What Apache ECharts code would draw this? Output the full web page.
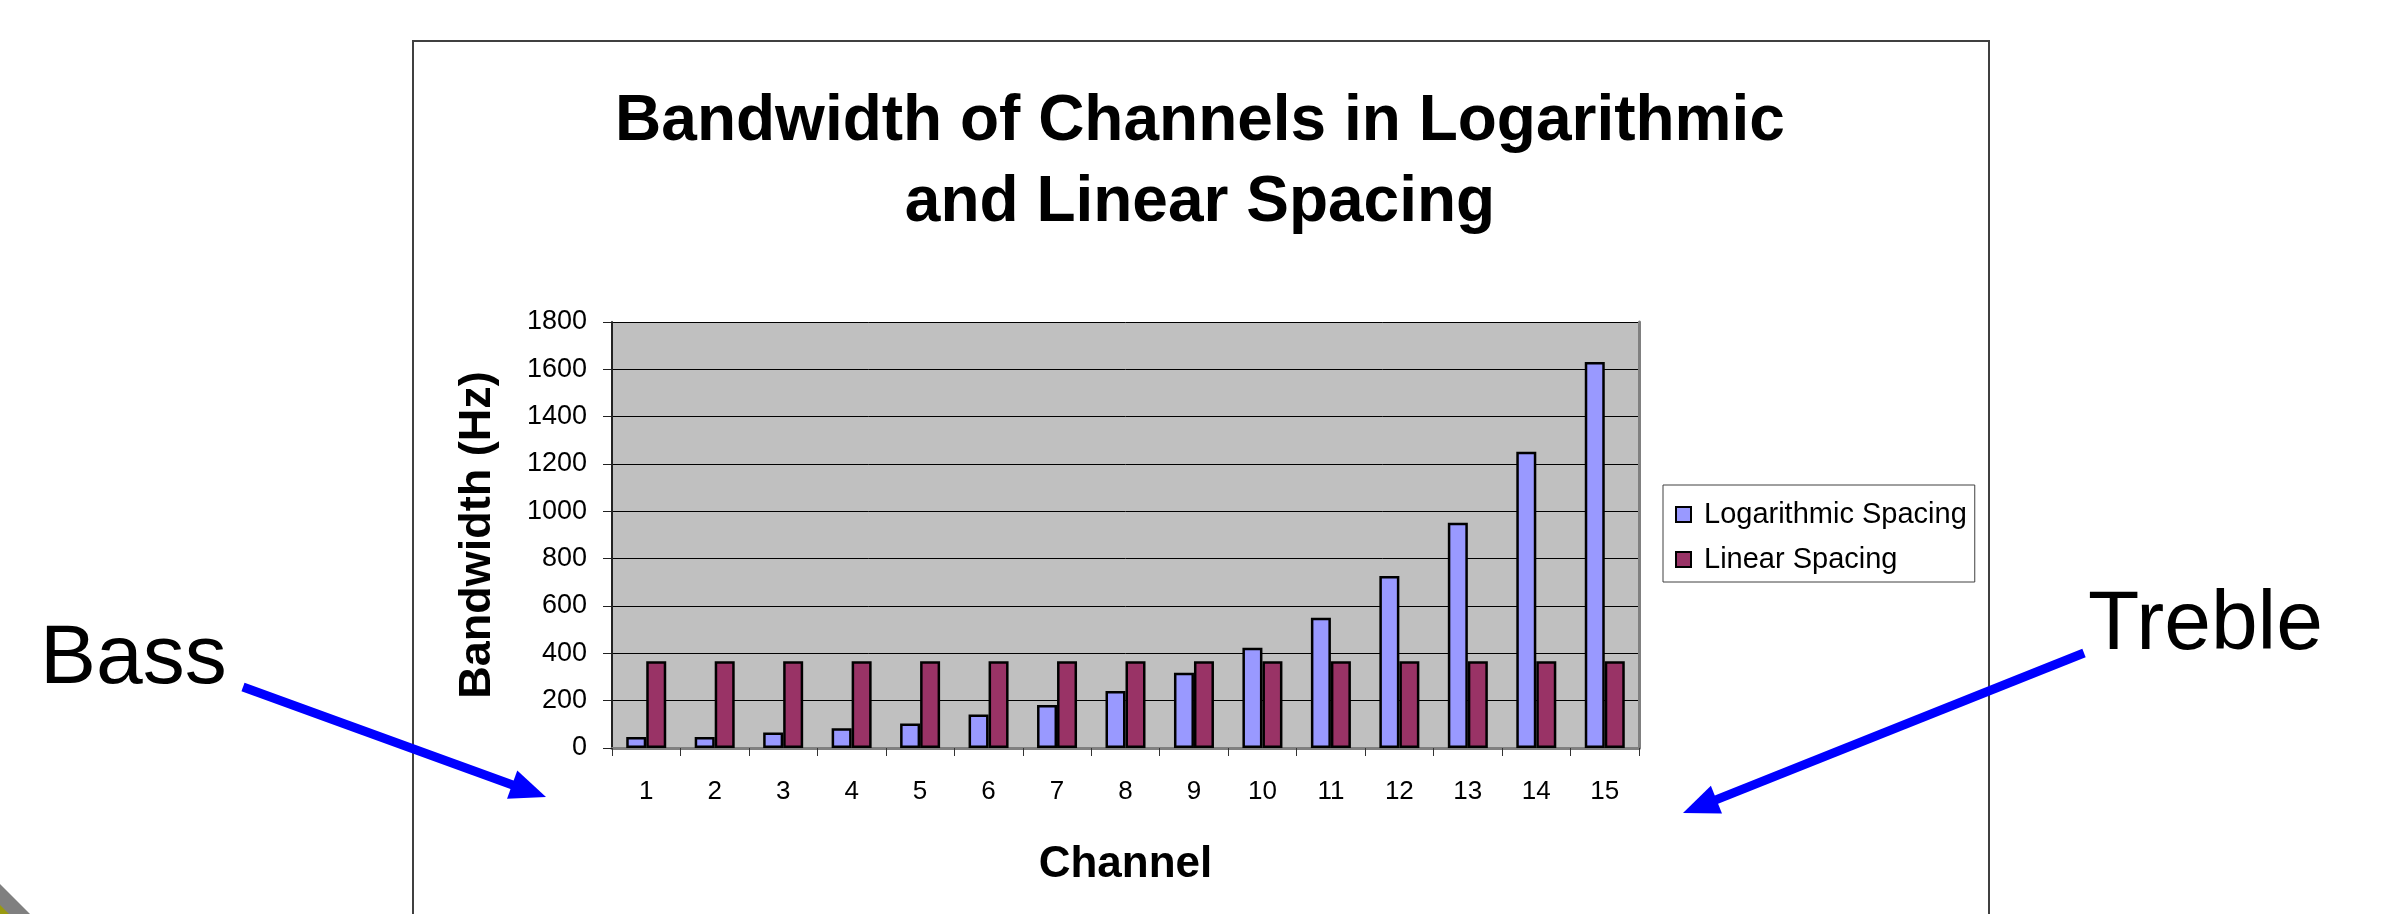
<!DOCTYPE html>
<html>
<head>
<meta charset="utf-8">
<script src="https://cdn.jsdelivr.net/npm/echarts@6/dist/echarts.min.js"></script>
<style>
html,body{margin:0;padding:0;background:#fff;}
#chart{width:2393px;height:914px;}
</style>
</head>
<body>
<div id="chart"></div>
<script>
const categories = ['1','2','3','4','5','6','7','8','9','10','11','12','13','14','15'];
const logSpacing = [46, 46, 65, 83, 103, 142, 182, 241, 318, 424, 550, 727, 952, 1252, 1631];
const linearSpacing = [367, 367, 367, 367, 367, 367, 367, 367, 367, 367, 367, 367, 367, 367, 367];
const seriesNames = ['Logarithmic Spacing', 'Linear Spacing'];
const titleText = 'Bandwidth of Channels in Logarithmic\nand Linear Spacing';
const yName = 'Bandwidth (Hz)';
const xName = 'Channel';

const FONT = '"Liberation Sans", Arial, sans-serif';
const chart = echarts.init(document.getElementById('chart'), null, {renderer: 'canvas'});

function arrow(x1, y1, tx, ty) {
  const dx = tx - x1, dy = ty - y1;
  const L = Math.sqrt(dx*dx + dy*dy);
  const ux = dx / L, uy = dy / L;
  const hl = 36, hw = 15;
  const bx = tx - ux*hl, by = ty - uy*hl;
  const px = -uy, py = ux;
  return [
    {type:'line', shape:{x1:x1, y1:y1, x2:bx + ux*2, y2:by + uy*2}, style:{stroke:'#0000FF', lineWidth:9}},
    {type:'polygon', shape:{points:[[tx,ty],[bx+px*hw, by+py*hw],[bx-px*hw, by-py*hw]]}, style:{fill:'#0000FF'}}
  ];
}

const option = {
  animation: false,
  backgroundColor: '#ffffff',
  title: {
    text: titleText,
    left: 1200,
    textAlign: 'center',
    top: 82,
    padding: 0,
    textStyle: {fontFamily: FONT, fontSize: 64, fontWeight: 'bold', color: '#000', lineHeight: 81}
  },
  legend: {
    orient: 'vertical',
    left: 1663,
    top: 485,
    padding: [15, 8, 8, 12],
    itemGap: 16,
    itemWidth: 15,
    itemHeight: 15,
    icon: 'rect',
    backgroundColor: '#fff',
    borderColor: '#404040',
    borderWidth: 1,
    borderRadius: 0,
    data: seriesNames,
    textStyle: {fontFamily: FONT, fontSize: 29, color: '#000', padding: [0,0,0,8]}
  },
  grid: {
    left: 612, top: 322, width: 1027, height: 426,
    show: true, backgroundColor: '#C0C0C0', borderWidth: 0
  },
  xAxis: [{
    type: 'category',
    data: categories,
    boundaryGap: true,
    name: xName,
    nameLocation: 'middle',
    nameGap: 95,
    nameTextStyle: {fontFamily: FONT, fontSize: 44, fontWeight: 'bold', color: '#000'},
    axisLine: {lineStyle: {color: '#333', width: 2}},
    axisTick: {show: true, length: 8, lineStyle: {color: '#333', width: 1}},
    axisLabel: {fontFamily: FONT, fontSize: 26, color: '#000', margin: 31},
    splitLine: {show: false}
  }, {
    type: 'category',
    data: categories,
    position: 'top',
    axisLine: {lineStyle: {color: '#808080', width: 3}},
    axisTick: {show: false},
    axisLabel: {show: false}
  }],
  yAxis: [{
    type: 'value',
    min: 0, max: 1800, interval: 200,
    name: yName,
    nameLocation: 'middle',
    nameGap: 112,
    nameTextStyle: {fontFamily: FONT, fontSize: 45, fontWeight: 'bold', color: '#000'},
    axisLine: {show: true, lineStyle: {color: '#222', width: 2}},
    axisTick: {show: true, length: 9, lineStyle: {color: '#222', width: 1}},
    axisLabel: {fontFamily: FONT, fontSize: 27, color: '#000', margin: 25, formatter: function (v) { return String(v); }},
    splitLine: {show: true, lineStyle: {color: '#000', width: 1}}
  }, {
    type: 'value',
    min: 0, max: 1800, interval: 200,
    position: 'right',
    axisLine: {show: true, lineStyle: {color: '#808080', width: 3}},
    axisTick: {show: false},
    axisLabel: {show: false},
    splitLine: {show: false}
  }],
  series: [{
    name: seriesNames[0],
    type: 'bar',
    data: logSpacing,
    barWidth: 20,
    barGap: '0%',
    itemStyle: {color: '#9999FF', borderColor: '#000', borderWidth: 2.5}
  }, {
    name: seriesNames[1],
    type: 'bar',
    data: linearSpacing,
    barWidth: 20,
    barGap: '0%',
    itemStyle: {color: '#993366', borderColor: '#000', borderWidth: 2.5}
  }],
  graphic: [
    {type:'rect', z:-10, shape:{x:413, y:41, width:1576, height:1000}, style:{fill:'none', stroke:'#404040', lineWidth:2}},
    {type:'polygon', shape:{points:[[0,884],[30,914],[0,914]]}, style:{fill:'#808080'}},
    {type:'polygon', shape:{points:[[0,905],[9,914],[0,914]]}, style:{fill:'#9A9A10'}},
    {type:'text', x:40, y:660, style:{text:'Bass', fontFamily: FONT, fontSize:84, fill:'#000', verticalAlign:'middle', align:'left'}},
    {type:'text', x:2088, y:626, style:{text:'Treble', fontFamily: FONT, fontSize:84, fill:'#000', verticalAlign:'middle', align:'left'}}
  ].concat(arrow(243, 687, 546, 797)).concat(arrow(2084, 653, 1683, 813))
};
chart.setOption(option);
</script>
</body>
</html>
